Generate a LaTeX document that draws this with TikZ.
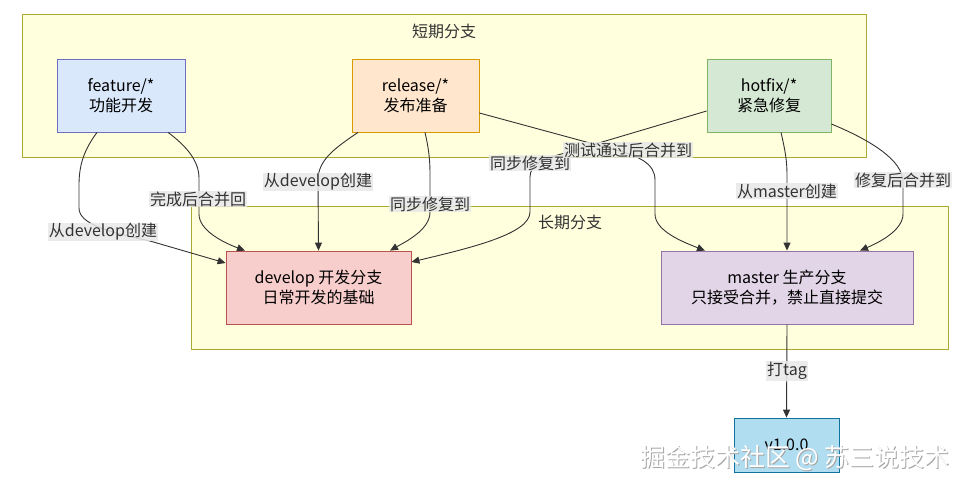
\documentclass[tikz,border=0pt]{standalone}
\usepackage{fontspec}
\setmainfont{Noto Sans CJK SC}
\usetikzlibrary{arrows.meta}
\definecolor{clfill}{HTML}{FFFFDE}
\definecolor{clline}{HTML}{AAAA33}
\definecolor{edge}{HTML}{333333}
\definecolor{lblbg}{HTML}{E8E8E8}
\tikzset{
  cluster/.style={draw=clline,fill=clfill,line width=0.8pt},
  box/.style={draw,line width=0.8pt,minimum height=73pt,align=center,font=\fontsize{16}{20}\selectfont,inner sep=0pt},
  conn/.style={draw=edge,line width=0.9pt,-{Triangle[length=8pt,width=7pt]}},
  lbl/.style={fill=lblbg,fill opacity=0.85,text opacity=1,inner sep=0.8pt,font=\fontsize{16}{17}\selectfont,text=edge},
  ttl/.style={font=\fontsize{16}{17}\selectfont,text=edge},
}
\begin{document}
\begin{tikzpicture}[x=1pt,y=-1pt]
\useasboundingbox[fill=white] (0,0) rectangle (968,487);
% clusters
\draw[cluster] (22,14) rectangle (866,157);
\node[ttl] (tshort) at (444,31) {短期分支};
\draw[cluster] (191,206) rectangle (948,349);
\node[ttl] (tlong) at (570,222) {长期分支};
% nodes
\node[box,draw=blue!40!gray!80,fill={rgb,255:red,218;green,232;blue,252},minimum width=128pt] (feature) at (121,95.5) {feature/*\\功能开发};
\node[box,draw={rgb,255:red,215;green,155;blue,0},fill={rgb,255:red,255;green,230;blue,204},minimum width=127pt] (release) at (415.5,95.5) {release/*\\发布准备};
\node[box,draw={rgb,255:red,130;green,179;blue,102},fill={rgb,255:red,213;green,232;blue,212},minimum width=124pt] (hotfix) at (769,95.5) {hotfix/*\\紧急修复};
\node[box,draw={rgb,255:red,184;green,84;blue,80},fill={rgb,255:red,248;green,206;blue,204},minimum width=185pt] (develop) at (318.5,287.5) {develop 开发分支\\日常开发的基础};
\node[box,draw={rgb,255:red,150;green,115;blue,166},fill={rgb,255:red,225;green,213;blue,231},minimum width=252pt] (master) at (787,287.5) {master 生产分支\\只接受合并，禁止直接提交};
\node[box,draw={rgb,255:red,16;green,115;blue,158},fill={rgb,255:red,177;green,221;blue,240},minimum width=105pt,minimum height=54pt] (v100) at (786.5,445) {v1.0.0};
% edges
\draw[conn] ([xshift=-24pt]feature.south) .. controls (84,150) and (79,165) .. (79,185) -- (79,208) .. controls (79,224) and (108,232) .. (150,241) -- ([yshift=24.5pt]develop.west);
\draw[conn] ([xshift=47pt]feature.south) .. controls (185,145) and (199,160) .. (199,178) -- (199,214) .. controls (199,230) and (222,242) .. ([xshift=-73.5pt]develop.north);
\draw[conn] ([xshift=-57.5pt]release.south) .. controls (335,148) and (318,160) .. (318,180) -- (develop.north);
\draw[conn] ([xshift=9.5pt]release.south) .. controls (429,150) and (430,160) .. (430,175) -- (430,212) .. controls (430,230) and (405,242) .. ([xshift=71.5pt]develop.north);
\draw[conn] ([yshift=-15.5pt]hotfix.west) -- (565,153) .. controls (542,159) and (530,165) .. (530,177) -- (530,212) .. controls (530,234) and (470,248) .. ([yshift=25.5pt]develop.east);
\draw[conn] ([yshift=-17.5pt]release.east) -- (612,149) .. controls (640,156) and (655,164) .. (655,180) -- (655,214) .. controls (655,231) and (683,242) .. ([xshift=-82pt]master.north);
\draw[conn] ([xshift=12pt]hotfix.south) .. controls (785,150) and (787,160) .. (787,175) -- (master.north);
\draw[conn] ([yshift=-28.5pt]hotfix.east) .. controls (870,140) and (903,160) .. (903,182) -- (903,214) .. controls (903,230) and (880,242) .. ([xshift=73pt]master.north);
\draw[conn] (master.south) -- (v100.north);
% labels
\node[lbl] (l1) at (103,232) {从develop创建};
\node[lbl] (l2) at (198,199) {完成后合并回};
\node[lbl] (l3) at (318,182) {从develop创建};
\node[lbl] (l4) at (430,204) {同步修复到};
\node[lbl] (l5) at (530,163) {同步修复到};
\node[lbl] (l6) at (628,150) {测试通过后合并到};
\node[lbl] (l7) at (787,191) {从master创建};
\node[lbl] (l8) at (903,180) {修复后合并到};
\node[lbl] (l9) at (787,371) {打tag};
% watermark
\node[font=\fontsize{25}{27}\selectfont,text=gray!70] (wm0) at (796,459) {掘金技术社区 @ 苏三说技术};
\node[font=\fontsize{25}{27}\selectfont,text=white] (wm) at (795,458) {掘金技术社区 @ 苏三说技术};
\end{tikzpicture}
\end{document}
